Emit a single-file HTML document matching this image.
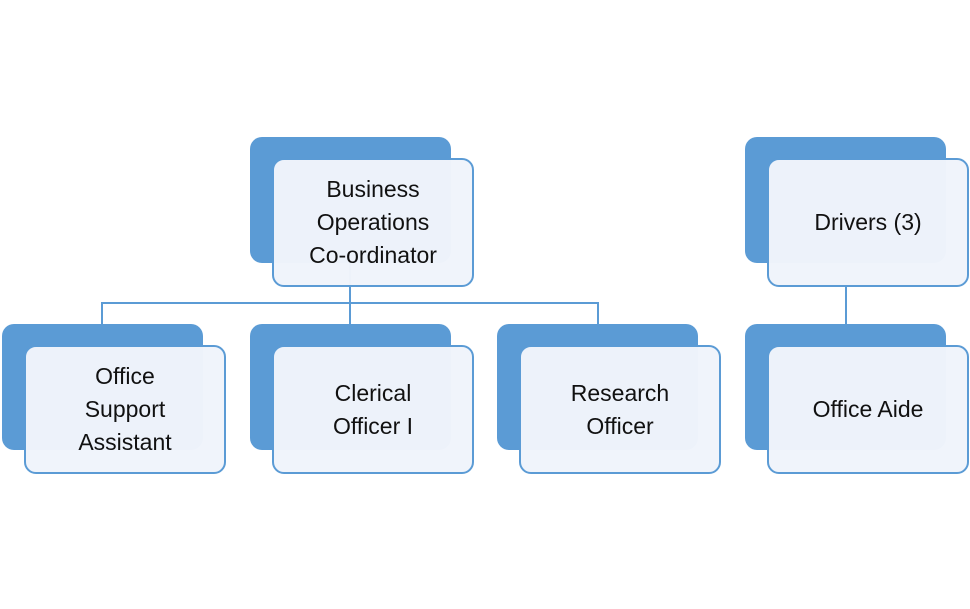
<!DOCTYPE html>
<html><head><style>
body{margin:0;width:970px;height:609px;background:#fff;position:relative;overflow:hidden;font-family:"Liberation Sans",sans-serif}
.b{position:absolute;background:#5b9bd5;border-radius:12px;width:201px;height:126px}
.f{position:absolute;background:rgba(240,244,251,0.98);border:2px solid #5b9bd5;border-radius:12px;display:flex;align-items:center;justify-content:center;text-align:center;font-size:23px;line-height:33px;color:#111;box-sizing:border-box;width:202px;height:129px}
.l{position:absolute;background:#5b9bd5}
</style></head><body>
<div class="l" style="left:349px;top:263px;width:2px;height:41px"></div>
<div class="l" style="left:101px;top:302px;width:498px;height:2px"></div>
<div class="l" style="left:101px;top:302px;width:2px;height:22px"></div>
<div class="l" style="left:349px;top:302px;width:2px;height:22px"></div>
<div class="l" style="left:597px;top:302px;width:2px;height:22px"></div>
<div class="l" style="left:845px;top:287px;width:2px;height:37px"></div>

<div class="b" style="left:250px;top:137px"></div>
<div class="f" style="left:272px;top:158px">Business<br>Operations<br>Co-ordinator</div>
<div class="b" style="left:745px;top:137px"></div>
<div class="f" style="left:767px;top:158px">Drivers (3)</div>

<div class="b" style="left:2px;top:324px"></div>
<div class="f" style="left:24px;top:345px">Office<br>Support<br>Assistant</div>
<div class="b" style="left:250px;top:324px"></div>
<div class="f" style="left:272px;top:345px">Clerical<br>Officer I</div>
<div class="b" style="left:497px;top:324px"></div>
<div class="f" style="left:519px;top:345px">Research<br>Officer</div>
<div class="b" style="left:745px;top:324px"></div>
<div class="f" style="left:767px;top:345px">Office Aide</div>
</body></html>
